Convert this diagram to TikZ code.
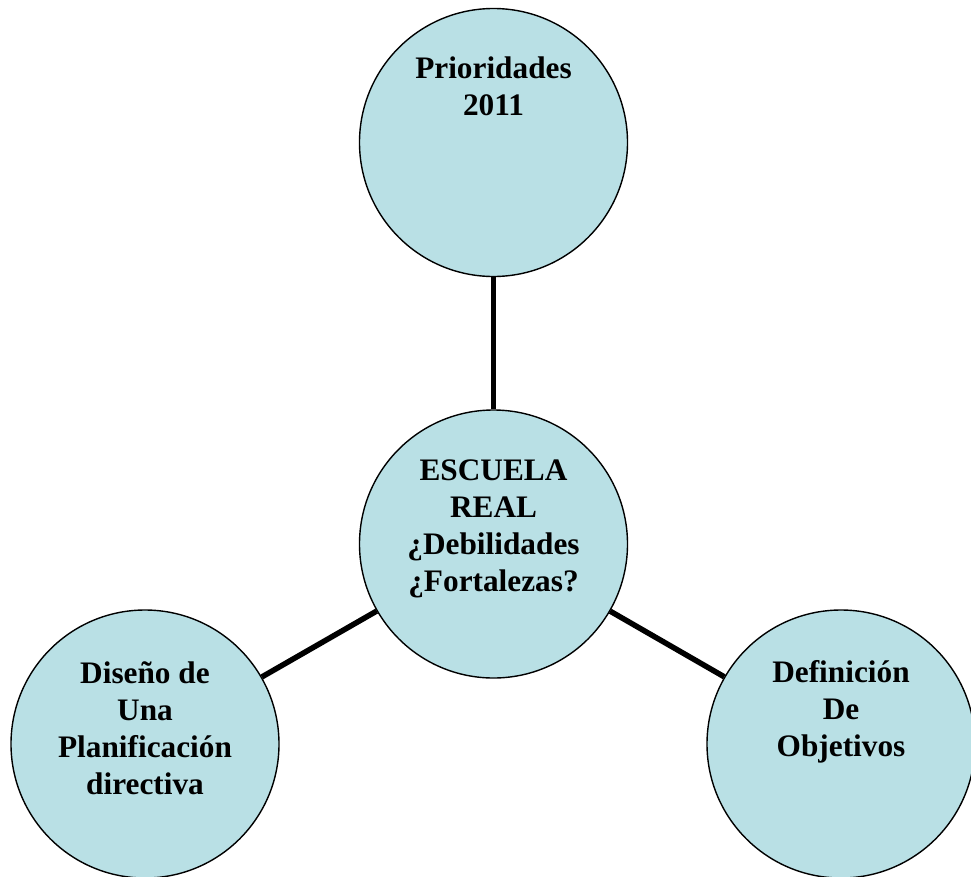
\documentclass[tikz,border=0pt]{standalone}
\usepackage{fontspec}
\setmainfont[Ligatures=NoCommon]{Liberation Serif}
\definecolor{bubble}{RGB}{185,224,229}
\begin{document}
\begin{tikzpicture}[x=1pt,y=-1pt,
  bubble/.style={circle, draw=black, line width=1.4pt, fill=bubble, minimum size=268pt, inner sep=0pt},
  label/.style={anchor=north, inner sep=0pt, align=center, font=\fontsize{31.3}{37}\selectfont\bfseries},
  link/.style={line width=5.5pt}]
\clip (0,0) rectangle (971,876);
\useasboundingbox (0,0) rectangle (971,876);
\node[bubble] (top) at (493.5,142.5) {};
\node[bubble] (mid) at (493.5,544) {};
\node[bubble] (left) at (145,744) {};
\node[bubble] (right) at (841,744) {};
\draw[link] (mid) -- (top);
\draw[link] (mid) -- (left);
\draw[link] (mid) -- (right);
\node[label] (ttop) at (493.5,57) {Prioridades\\2011};
\node[label] (tmid) at (493.5,460) {ESCUELA\\REAL\\¿Debilidades\\¿Fortalezas?};
\node[label] (tleft) at (145,661) {Diseño de\\Una\\Planificación\\directiva};
\node[label] (tright) at (841,660) {Definición\\De\\Objetivos};
\end{tikzpicture}
\end{document}
